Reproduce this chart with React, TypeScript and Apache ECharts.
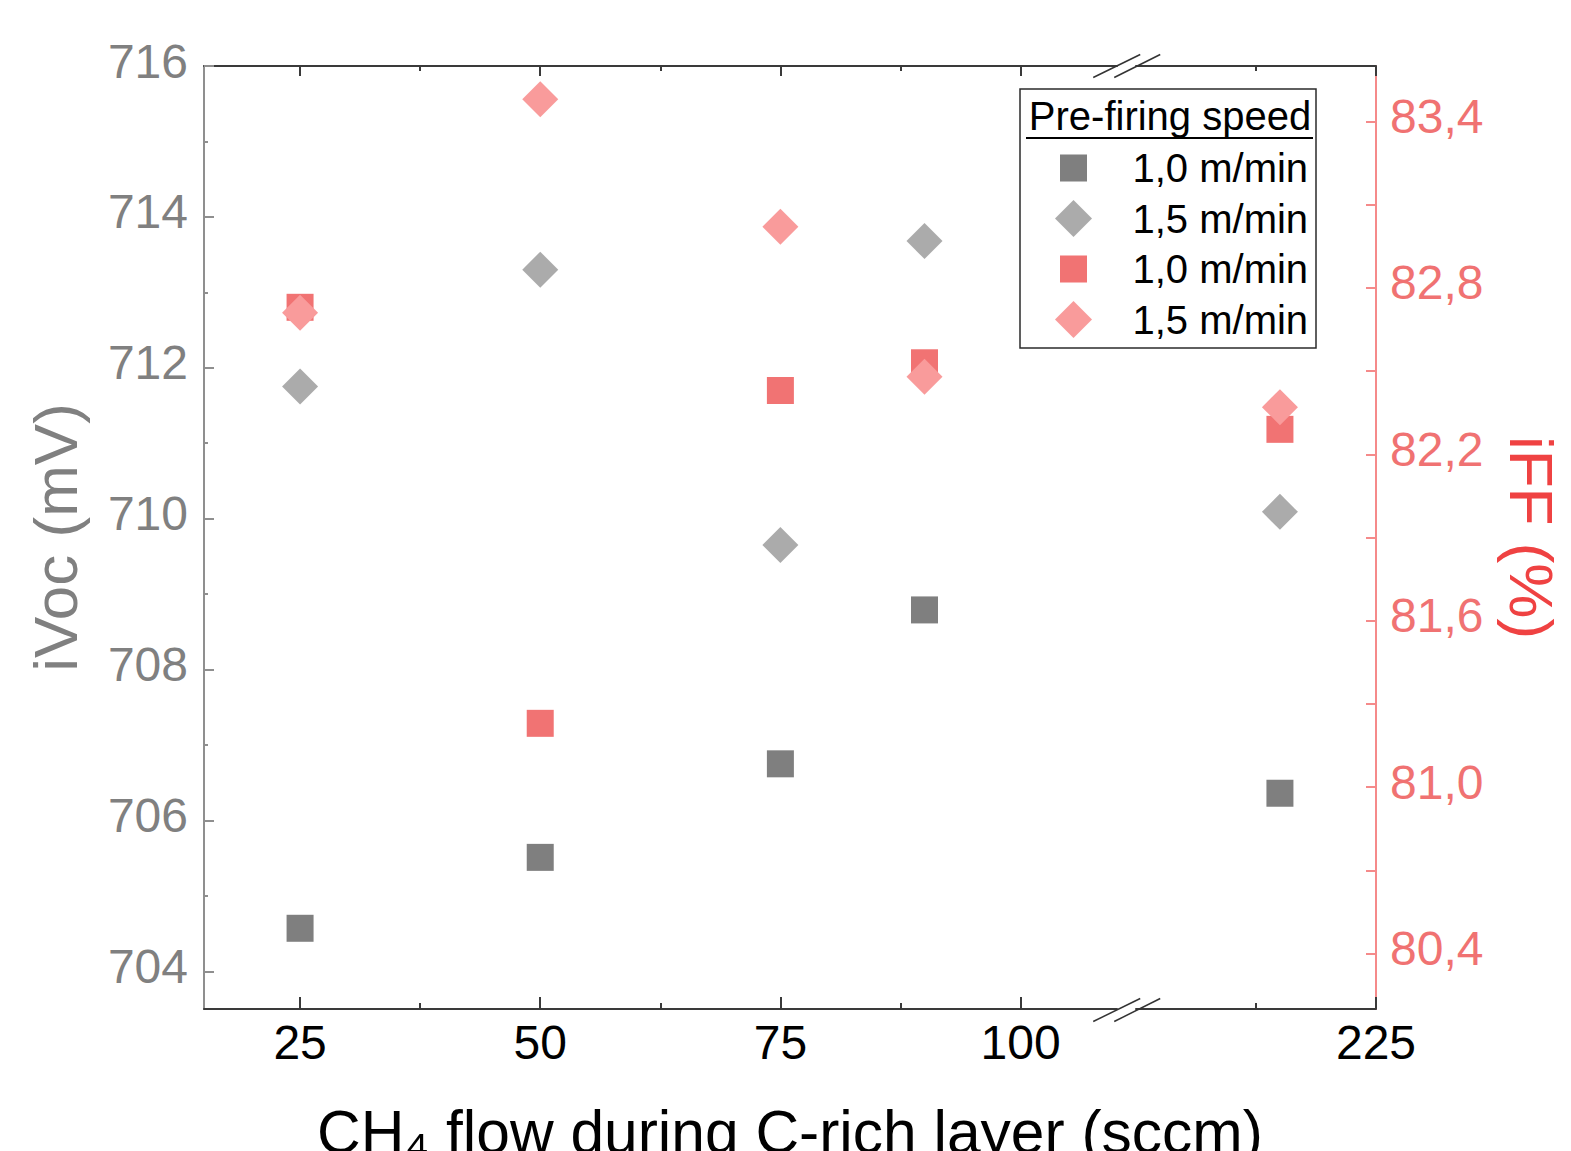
import React, { useEffect, useRef } from "react";
import * as echarts from "echarts";

// ---------- data ----------
const flowValues = [25, 50, 75, 90, 215];
const ivoc10 = [704.57, 705.51, 706.75, 708.79, 706.36];
const ivoc15 = [711.75, 713.3, 709.65, 713.68, 710.09];
const iff10 = [82.73, 81.23, 82.43, 82.53, 82.29];
const iff15 = [82.71, 83.48, 83.02, 82.48, 82.37];

const xMajorTicks = [25, 50, 75, 100, 225];
const xMinorTicks = [37.5, 62.5, 87.5, 212.5];
const leftMajorTicks = [704, 706, 708, 710, 712, 714, 716];
const leftMinorTicks = [705, 707, 709, 711, 713, 715];
const rightMajorTicks = [80.4, 81.0, 81.6, 82.2, 82.8, 83.4];
const rightMinorTicks = [80.7, 81.3, 81.9, 82.5, 83.1];

const seriesNames = ["iVoc 1,0 m/min", "iVoc 1,5 m/min", "iFF 1,0 m/min", "iFF 1,5 m/min"];
const legendLabels = ["1,0 m/min", "1,5 m/min", "1,0 m/min", "1,5 m/min"];
const legendTitle = "Pre-firing speed";
const xBreakStart = 110;
const xBreakEnd = 200;
const xBreakGap = 2;

const FONT = "'Liberation Sans', Arial, Helvetica, sans-serif";
const colors = ["#7f7f7f", "#ababab", "#f17373", "#f99b9b"];
const symbols = ["rect", "diamond", "rect", "diamond"];
const symbolSizes = [27, 36, 27, 36];
const squareIcon = "path://M0,0L0.01,0M37,37L36.99,37M5,5L32,5L32,32L5,32Z";
const diamondIcon = "path://M18.5,0L37,18.5L18.5,37L0,18.5Z";

const GRID = { left: 204, top: 66, width: 1172, height: 943 };

function xAxisDef(position: string, ticks: number[], len: number, main: boolean, withName: boolean) {
  return {
    type: "value",
    position,
    min: 15,
    max: 225,
    breaks: [{ start: xBreakStart, end: xBreakEnd, gap: xBreakGap }],
    breakArea: { show: false },
    axisLine: { show: main, onZero: false, lineStyle: { color: "#3a3a3a", width: 2 } },
    axisTick: {
      show: true,
      inside: true,
      length: len,
      customValues: ticks,
      lineStyle: { color: "#3a3a3a", width: 2 },
    },
    axisLabel: {
      show: main && position === "bottom",
      customValues: xMajorTicks,
      fontSize: 48,
      color: "#000",
      fontFamily: FONT,
      margin: 9,
    },
    splitLine: { show: false },
    minorTick: { show: false },
    ...(withName
      ? {
          name: "CH₄ flow during C-rich layer (sccm)",
          nameLocation: "middle",
          nameGap: 92,
          nameTextStyle: { fontSize: 60.5, color: "#000", fontFamily: FONT },
        }
      : {}),
  };
}

export default function App() {
  const ref = useRef<HTMLDivElement>(null);
  useEffect(() => {
    const chart = echarts.init(ref.current!, null, { renderer: "svg" });
    const option: any = {
      animation: false,
      backgroundColor: "#fff",
      textStyle: { fontFamily: FONT },
      grid: { ...GRID, containLabel: false, outerBoundsMode: "none" },
      xAxis: [
        xAxisDef("bottom", xMajorTicks, 12, true, true),
        xAxisDef("bottom", xMinorTicks, 6, false, false),
        xAxisDef("top", xMajorTicks, 10, true, false),
        xAxisDef("top", xMinorTicks, 5, false, false),
      ],
      yAxis: [
        {
          type: "value",
          position: "left",
          min: 703.5,
          max: 716,
          axisLine: { show: true, onZero: false, lineStyle: { color: "#8f8f8f", width: 2 } },
          axisTick: { show: true, inside: true, length: 10, customValues: leftMajorTicks, lineStyle: { color: "#8f8f8f", width: 2 } },
          axisLabel: {
            customValues: leftMajorTicks,
            fontSize: 48,
            color: "#808080",
            margin: 16,
            fontFamily: FONT,
            verticalAlign: "bottom",
            lineHeight: 10,
          },
          splitLine: { show: false },
          name: "iVoc (mV)",
          nameLocation: "middle",
          nameGap: 118,
          nameTextStyle: { fontSize: 62, color: "#808080", fontFamily: FONT },
        },
        {
          type: "value",
          position: "left",
          min: 703.5,
          max: 716,
          axisLine: { show: false },
          axisTick: { show: true, inside: true, length: 4, customValues: leftMinorTicks, lineStyle: { color: "#8f8f8f", width: 2 } },
          axisLabel: { show: false },
          splitLine: { show: false },
        },
        {
          type: "value",
          position: "right",
          min: 80.2,
          max: 83.6,
          axisLine: { show: true, onZero: false, lineStyle: { color: "#f58a8a", width: 2 } },
          axisTick: {
            show: true,
            inside: true,
            length: 10,
            customValues: [...rightMajorTicks, ...rightMinorTicks],
            lineStyle: { color: "#f58a8a", width: 2 },
          },
          axisLabel: {
            customValues: rightMajorTicks,
            formatter: (v: number) => v.toFixed(1).replace(".", ","),
            fontSize: 48,
            color: "#f07272",
            margin: 14,
            fontFamily: FONT,
            verticalAlign: "bottom",
            lineHeight: 10,
          },
          splitLine: { show: false },
          name: "iFF (%)",
          nameLocation: "middle",
          nameRotate: -90,
          nameGap: 124,
          nameTextStyle: { fontSize: 62, color: "#ef4242", fontFamily: FONT },
        },
      ],
      legend: {
        orient: "vertical",
        left: 1055,
        top: 148,
        padding: 0,
        itemWidth: 108,
        itemHeight: 37,
        itemGap: 10.5,
        symbolKeepAspect: true,
        selectedMode: false,
        data: seriesNames.map((n, i) => ({ name: n, icon: symbols[i] === "rect" ? squareIcon : diamondIcon })),
        formatter: (n: string) => legendLabels[seriesNames.indexOf(n)],
        textStyle: { fontSize: 40, color: "#000", fontFamily: FONT },
      },
      series: [
        [ivoc10, 0],
        [ivoc15, 0],
        [iff10, 2],
        [iff15, 2],
      ].map(([vals, yIdx]: any, i) => ({
        name: seriesNames[i],
        type: "scatter",
        xAxisIndex: 0,
        yAxisIndex: yIdx,
        symbol: symbols[i],
        symbolSize: symbolSizes[i],
        itemStyle: { color: colors[i], opacity: 1 },
        silent: true,
        data: flowValues.map((x, k) => [x, vals[k]]),
      })),
    };
    chart.setOption(option);

    let cx = 1127;
    try {
      const a = chart.convertToPixel({ xAxisIndex: 0 } as any, xBreakStart) as any;
      const b = chart.convertToPixel({ xAxisIndex: 0 } as any, xBreakEnd) as any;
      if (typeof a === "number" && typeof b === "number" && isFinite(a) && isFinite(b)) cx = (a + b) / 2;
    } catch (e) {}
    const yTop = GRID.top;
    const yBot = GRID.top + GRID.height + 1;
    const brk = (y: number) => [
      { type: "line", shape: { x1: cx - 33, y1: y + 11.5, x2: cx + 14, y2: y - 11.5 }, style: { stroke: "#333", lineWidth: 1.5 }, z: 100 },
      { type: "line", shape: { x1: cx - 12, y1: y + 11.5, x2: cx + 34, y2: y - 11.5 }, style: { stroke: "#333", lineWidth: 1.5 }, z: 100 },
    ];
    chart.setOption({
      graphic: [
        {
          type: "rect",
          shape: { x: 1020, y: 89, width: 296, height: 259 },
          style: { fill: "none", stroke: "#2b2b2b", lineWidth: 1.5 },
          z: 90,
        },
        {
          type: "text",
          x: 1170,
          y: 116,
          style: { text: legendTitle, fontSize: 40, fontFamily: FONT, fill: "#000", align: "center", verticalAlign: "middle" },
          z: 90,
        },
        {
          type: "line",
          shape: { x1: 1026, y1: 138, x2: 1313, y2: 138 },
          style: { stroke: "#000", lineWidth: 2 },
          z: 90,
        },
        ...brk(yTop),
        ...brk(yBot),
      ],
    });
    return () => chart.dispose();
  }, []);
  return <div ref={ref} style={{ position: "fixed", left: 0, top: 0, width: 1571, height: 1151 }} />;
}
